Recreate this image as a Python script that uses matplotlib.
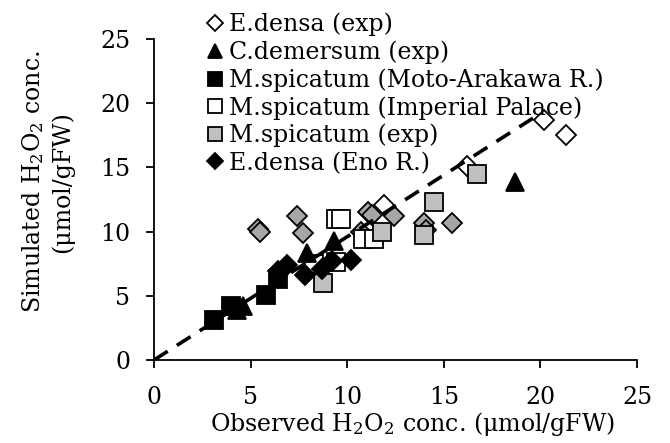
import matplotlib
matplotlib.use('Agg')
from matplotlib import pyplot as plt

plt.rcParams['font.family'] = ['DejaVu Serif']
plt.rcParams['mathtext.fontset'] = 'dejavuserif'

# E.densa (exp)
ed_exp_x = [11.9, 16.2, 20.2, 21.3]
ed_exp_y = [12.1, 15.1, 18.7, 17.5]
# C.demersum (exp)
cd_exp_x = [4.3, 4.6, 7.9, 9.3, 18.7]
cd_exp_y = [3.9, 4.2, 8.3, 9.3, 13.9]
# M.spicatum (Moto-Arakawa R.)
ms_moto_x = [3.1, 4.0, 5.8, 6.4]
ms_moto_y = [3.1, 4.2, 5.1, 6.3]
# M.spicatum (Imperial Palace)
ms_imp_x = [9.4, 9.7, 10.8, 11.4, 8.3, 9.4]
ms_imp_y = [11.0, 11.0, 9.4, 9.4, 7.5, 7.6]
# M.spicatum (exp)
ms_exp_x = [8.75, 11.8, 14.0, 14.5, 16.7]
ms_exp_y = [6.0, 10.0, 9.7, 12.3, 14.5]
# gray diamonds (no legend entry)
gd_x = [5.4, 5.5, 7.4, 7.7, 10.7, 11.1, 11.3, 12.4, 14.0, 14.1, 15.4]
gd_y = [10.2, 10.0, 11.2, 9.9, 10.0, 11.5, 11.3, 11.2, 10.7, 10.1, 10.7]
# E.densa (Eno R.)
ed_eno_x = [6.4, 6.9, 7.8, 8.7, 9.2, 10.2]
ed_eno_y = [6.9, 7.4, 6.6, 7.1, 7.7, 7.8]

# trend line (through origin)
trend_x = [0, 20.1]
trend_y = [0, 19.3]

fig = plt.figure(figsize=(6.7, 4.43), dpi=100)
ax = fig.add_axes([154/670, 1-360/443, 483/670, 321/443])

ms = 12.5
dms = 10.2
ew = 1.3
ax.plot(gd_x, gd_y, 'D', ms=dms, mfc='#a6a6a6', mec='black', mew=ew, ls='none')
ax.plot(ed_exp_x, ed_exp_y, 'D', ms=dms, mfc='white', mec='black', mew=ew, ls='none', label='E.densa (exp)')
ax.plot(ms_imp_x, ms_imp_y, 's', ms=ms, mfc='white', mec='black', mew=ew, ls='none', label='M.spicatum (Imperial Palace)')
ax.plot(ms_exp_x, ms_exp_y, 's', ms=ms, mfc='#c0c0c0', mec='black', mew=ew, ls='none', label='M.spicatum (exp)')
ax.plot(ms_moto_x, ms_moto_y, 's', ms=ms, mfc='black', mec='black', mew=ew, ls='none', label='M.spicatum (Moto-Arakawa R.)')
ax.plot(cd_exp_x, cd_exp_y, '^', ms=ms, mfc='black', mec='black', mew=ew, ls='none', label='C.demersum (exp)')
ax.plot(ed_eno_x, ed_eno_y, 'D', ms=dms, mfc='black', mec='black', mew=ew, ls='none', label='E.densa (Eno R.)')
ax.plot(trend_x, trend_y, color='black', lw=2.6, ls=(0, (4.5, 3)), zorder=5)

ax.set_xlim(0, 25)
ax.set_ylim(0, 25)
ax.set_xticks(range(0, 26, 5))
ax.set_yticks(range(0, 26, 5))
ax.spines['top'].set_visible(False)
ax.spines['right'].set_visible(False)
ax.spines['left'].set_linewidth(1.3)
ax.spines['bottom'].set_linewidth(1.3)
ax.tick_params(direction='out', length=6, width=1.3, labelsize=17)
ax.tick_params(axis='x', pad=13)
ax.tick_params(axis='y', pad=11)

fig.text(412/670, 1-424/443, 'Observed H$_2$O$_2$ conc. (μmol/gFW)', ha='center', va='center', fontsize=17)
fig.text(47/670, 1-182/443, 'Simulated H$_2$O$_2$ conc.\n(μmol/gFW)', ha='center', va='center',
         rotation=90, fontsize=17, linespacing=1.25)

h, l = ax.get_legend_handles_labels()
order = ['E.densa (exp)', 'C.demersum (exp)', 'M.spicatum (Moto-Arakawa R.)',
         'M.spicatum (Imperial Palace)', 'M.spicatum (exp)', 'E.densa (Eno R.)']
hd = dict(zip(l, h))
leg = fig.legend([hd[k] for k in order], order, loc='upper left', bbox_to_anchor=(195/670, 1 - 1/443),
                 frameon=False, fontsize=17, handlelength=0.7, handletextpad=0.25, labelspacing=0.18,
                 borderpad=0, markerscale=0.75)

fig.savefig('out.png', dpi=100)
